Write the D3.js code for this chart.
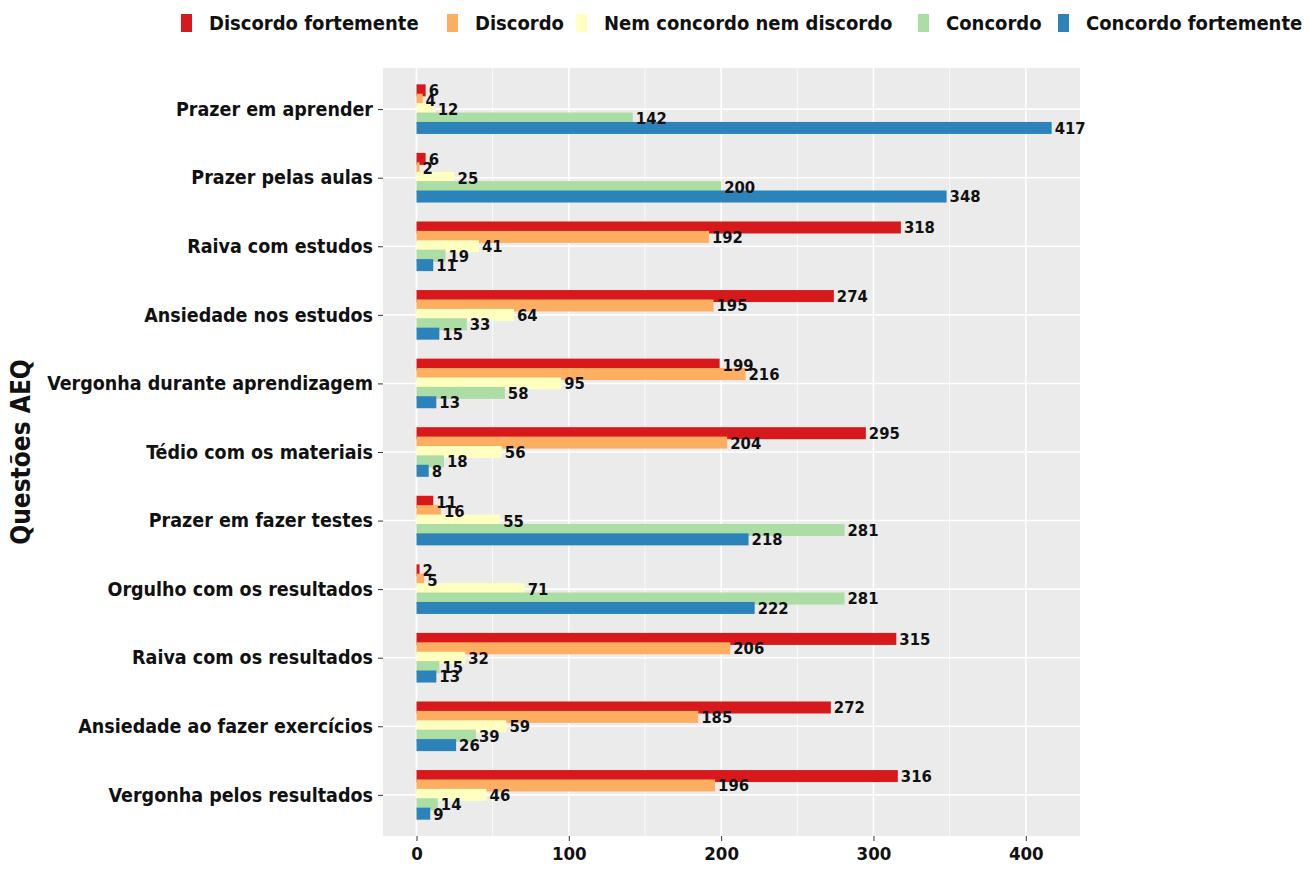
<!DOCTYPE html>
<meta charset="utf-8">
<style>
    body { margin: 0; background: #fff; }
    svg text { font-family: "DejaVu Sans Condensed", "Liberation Sans Narrow", sans-serif; fill: #111; }
    .grid line { stroke: #fff; }
    .lbl { font-size: 16.5px; font-weight: bold; }
</style>
<svg width="1316" height="869"></svg>
<script src="https://d3js.org/d3.v7.min.js"></script>
<script>

    var questions = ["Prazer em aprender", "Prazer pelas aulas", "Raiva com estudos", "Ansiedade nos estudos",
        "Vergonha durante aprendizagem", "Tédio com os materiais", "Prazer em fazer testes",
        "Orgulho com os resultados", "Raiva com os resultados", "Ansiedade ao fazer exercícios",
        "Vergonha pelos resultados"];

    var levels = ["Discordo fortemente", "Discordo", "Nem concordo nem discordo", "Concordo", "Concordo fortemente"];
    var colors = ["#d7191c", "#fdae61", "#ffffbf", "#abdda4", "#2b83ba"];

    // one array per answer level, in question order
    var discordoFortemente = [6, 6, 318, 274, 199, 295, 11, 2, 315, 272, 316];
    var discordo           = [4, 2, 192, 195, 216, 204, 16, 5, 206, 185, 196];
    var nemNem             = [12, 25, 41, 64, 95, 56, 55, 71, 32, 59, 46];
    var concordo           = [142, 200, 19, 33, 58, 18, 281, 281, 15, 39, 14];
    var concordoFortemente = [417, 348, 11, 15, 13, 8, 218, 222, 13, 26, 9];

    var series = [discordoFortemente, discordo, nemNem, concordo, concordoFortemente];
    var xTicks = [0, 100, 200, 300, 400];

    var svg = d3.select("svg");
    var panel = {left: 383, right: 1080, top: 68, bottom: 836};

    var x = d3.scaleLinear().domain([-22, 435.6]).range([panel.left, panel.right]);
    var y = d3.scalePoint().domain(questions).range([panel.top, panel.bottom]).padding(0.6);

    var barH = 12, step = 9.4;

    svg.append("rect")
        .attr("x", panel.left).attr("y", panel.top)
        .attr("width", panel.right - panel.left).attr("height", panel.bottom - panel.top)
        .attr("fill", "#ebebeb");

    var grid = svg.append("g").attr("class", "grid");
    grid.selectAll("line.minor")
        .data([50, 150, 250, 350])
        .enter().append("line")
        .attr("x1", function(d) { return x(d); }).attr("x2", function(d) { return x(d); })
        .attr("y1", panel.top).attr("y2", panel.bottom)
        .attr("stroke-width", 0.8);
    grid.selectAll("line.major")
        .data(xTicks)
        .enter().append("line")
        .attr("x1", function(d) { return x(d); }).attr("x2", function(d) { return x(d); })
        .attr("y1", panel.top).attr("y2", panel.bottom)
        .attr("stroke-width", 1.6);
    grid.selectAll("line.hq")
        .data(questions)
        .enter().append("line")
        .attr("x1", panel.left).attr("x2", panel.right)
        .attr("y1", function(d) { return y(d); }).attr("y2", function(d) { return y(d); })
        .attr("stroke-width", 1.6);

    // bars, drawn level by level so later ones sit on top
    series.forEach(function(vals, k) {
        var off = (k - 2) * step;
        svg.append("g").selectAll("rect")
            .data(vals)
            .enter().append("rect")
            .attr("x", x(0))
            .attr("y", function(d, i) { return y(questions[i]) + off - barH / 2; })
            .attr("width", function(d) { return x(d) - x(0); })
            .attr("height", barH)
            .attr("fill", colors[k]);
    });

    series.forEach(function(vals, k) {
        var off = (k - 2) * step;
        svg.append("g").selectAll("text")
            .data(vals)
            .enter().append("text")
            .attr("class", "lbl")
            .attr("x", function(d) { return x(d) + 3; })
            .attr("y", function(d, i) { return y(questions[i]) + off; })
            .attr("dy", "0.36em")
            .text(function(d) { return d; });
    });

    // axes
    var yAxis = svg.append("g")
        .attr("transform", "translate(" + panel.left + ",0)")
        .call(d3.axisLeft(y).tickSize(5).tickPadding(5));
    yAxis.select(".domain").remove();
    yAxis.selectAll("line").attr("stroke", "#333");
    yAxis.selectAll("text").style("font-size", "19.5px").style("font-weight", "bold").attr("fill", "#1a1a1a");

    var xAxis = svg.append("g")
        .attr("transform", "translate(0," + panel.bottom + ")")
        .call(d3.axisBottom(x).tickValues(xTicks).tickSize(5).tickPadding(6));
    xAxis.select(".domain").remove();
    xAxis.selectAll("line").attr("stroke", "#333");
    xAxis.selectAll("text").style("font-size", "18.5px").style("font-weight", "bold").attr("fill", "#1a1a1a");

    svg.append("text")
        .attr("transform", "translate(30," + ((panel.top + panel.bottom) / 2) + ") rotate(-90)")
        .attr("text-anchor", "middle")
        .style("font-size", "26px")
        .style("font-weight", "bold")
        .text("Questões AEQ");

    // legend
    var legendX = [181, 447, 576, 918, 1058];
    var legend = svg.append("g").selectAll("g")
        .data(levels)
        .enter().append("g")
        .attr("transform", function(d, i) { return "translate(" + legendX[i] + ",0)"; });
    legend.append("rect")
        .attr("x", 0).attr("y", 14).attr("width", 11).attr("height", 18)
        .attr("fill", function(d, i) { return colors[i]; });
    legend.append("text")
        .attr("x", 28).attr("y", 23).attr("dy", "0.36em")
        .style("font-size", "20px")
        .style("font-weight", "bold")
        .text(function(d) { return d; });

</script>
